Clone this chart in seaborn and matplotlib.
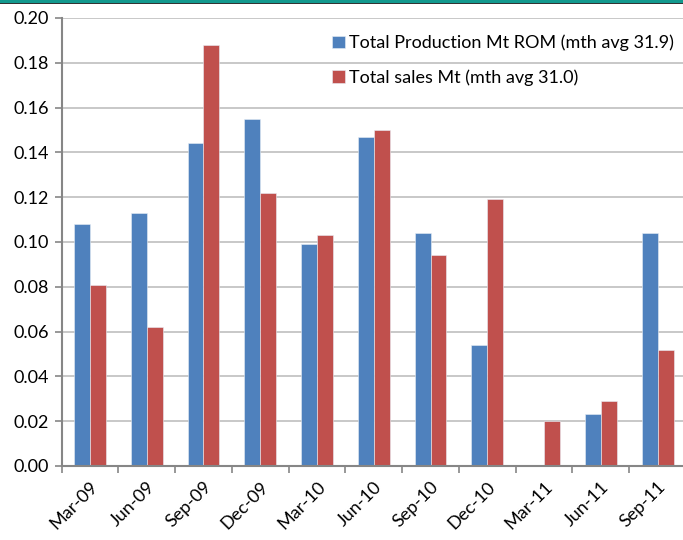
import matplotlib
matplotlib.use("Agg")
import matplotlib.pyplot as plt
from matplotlib.patches import Rectangle
from matplotlib.ticker import FixedLocator, MultipleLocator, FormatStrFormatter
import numpy as np
import pandas as pd
import seaborn as sns

# Quarterly figures
quarters = ["Mar-09", "Jun-09", "Sep-09", "Dec-09", "Mar-10", "Jun-10",
            "Sep-10", "Dec-10", "Mar-11", "Jun-11", "Sep-11"]
production = [0.108, 0.113, 0.144, 0.155, 0.099, 0.147,
              0.104, 0.054, 0.0, 0.023, 0.104]
sales = [0.081, 0.062, 0.188, 0.122, 0.103, 0.150,
         0.094, 0.119, 0.020, 0.029, 0.052]
series_names = ["Total Production Mt ROM (mth avg 31.9)",
                "Total sales Mt (mth avg 31.0)"]
colors = ["#4F81BD", "#C0504D"]

df = pd.DataFrame({
    "quarter": quarters * 2,
    "value": production + sales,
    "series": [series_names[0]] * len(quarters) + [series_names[1]] * len(quarters),
})

sns.set_theme(style="white")
plt.rcParams["font.family"] = ["Lato", "DejaVu Sans"]

fig = plt.figure(figsize=(6.83, 5.40), dpi=100)
W, H = 683, 540
ax_w = 686 - 61.5
ax_h = 466 - 18
ax = fig.add_axes([61.5 / W, 1 - 466 / H, ax_w / W, ax_h / H])

sns.barplot(data=df, x="quarter", y="value", hue="series", order=quarters,
            hue_order=series_names, palette=colors, saturation=1, width=0.56,
            edgecolor="#E8EEF6", linewidth=0.4, ax=ax)

ax.set_xlim(-0.5, len(quarters) - 0.5)
ax.set_ylim(0, 0.20)
ax.yaxis.set_major_locator(MultipleLocator(0.02))
ax.yaxis.set_major_formatter(FormatStrFormatter("%.2f"))
ax.grid(axis="y", color="#C8C8C8", linewidth=1.4)
ax.set_axisbelow(True)
ax.set_xlabel("")
ax.set_ylabel("")

for side in ["top", "right"]:
    ax.spines[side].set_visible(False)
for side in ["left", "bottom"]:
    ax.spines[side].set_color("#868686")
    ax.spines[side].set_linewidth(1.5)

# category boundary ticks on x, labels at centres
ax.xaxis.set_minor_locator(FixedLocator(np.arange(-0.5, len(quarters), 1.0)))
ax.tick_params(axis="x", which="major", length=0, pad=9, labelsize=13,
               labelcolor="#000000")
ax.tick_params(axis="x", which="minor", length=5, width=1.2, color="#868686",
               direction="out", bottom=True)
ax.tick_params(axis="y", length=5, width=1.2, color="#868686", direction="out",
               left=True, pad=4, labelsize=13, labelcolor="#000000")
for lbl in ax.get_xticklabels():
    lbl.set_rotation(45)
    lbl.set_ha("right")
    lbl.set_va("top")
    lbl.set_rotation_mode("anchor")

leg = ax.legend(loc="upper left", bbox_to_anchor=(258 / ax_w, 1 - 4 / ax_h),
                frameon=False, fontsize=13, handlelength=0.7, handleheight=0.7,
                handletextpad=0.25, labelspacing=1.0, borderaxespad=0.3)
for t in leg.get_texts():
    t.set_color("#000000")

# teal rule along the top edge
fig.add_artist(Rectangle((0, 1 - 3 / H), 1, 3 / H, transform=fig.transFigure,
                         facecolor="#12998E", edgecolor="none"))
fig.add_artist(Rectangle((0, 1 - 4 / H), 1, 1 / H, transform=fig.transFigure,
                         facecolor="#333333", edgecolor="none"))

fig.savefig("out.png", dpi=100)
